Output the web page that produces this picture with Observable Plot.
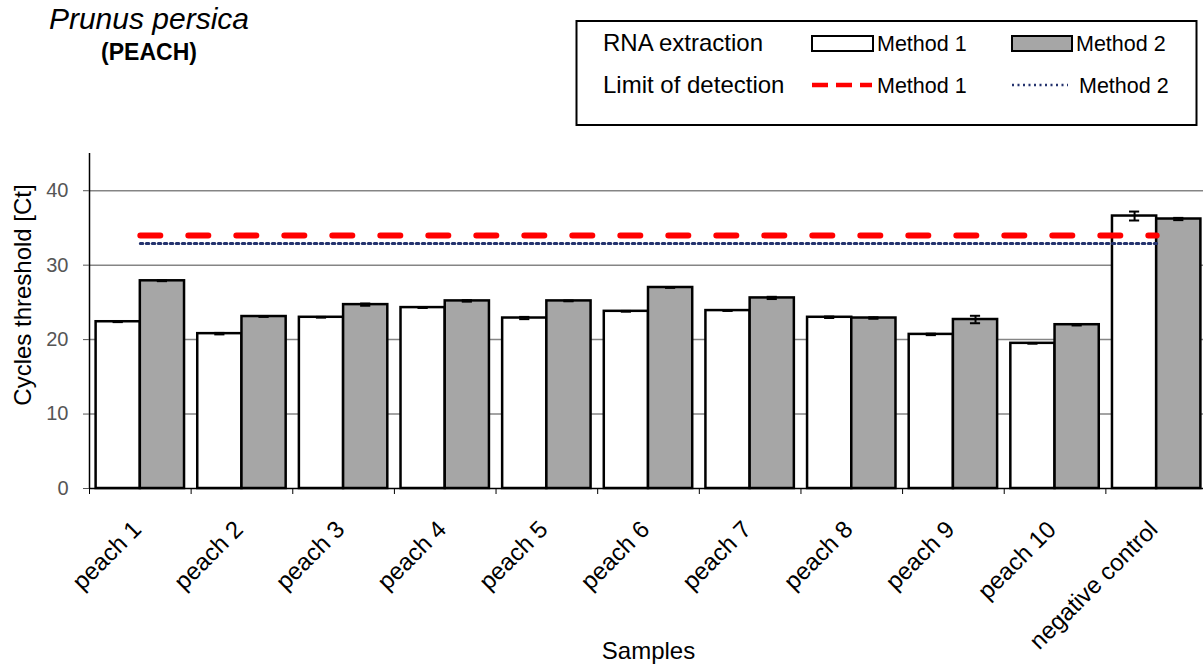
<!DOCTYPE html>
<html>
<head>
<meta charset="utf-8">
<script src="https://cdn.jsdelivr.net/npm/d3@7"></script>
<script src="https://cdn.jsdelivr.net/npm/@observablehq/plot@0.6"></script>
<style>
  html, body { margin: 0; padding: 0; background: #fff; overflow: hidden; width: 1203px; height: 668px; }
  body { font-family: "Liberation Sans", Arial, sans-serif; }
  #header { display: block; }
  #chart svg { max-width: none !important; display: block; }
</style>
</head>
<body>
<svg id="header" width="1203" height="130" xmlns="http://www.w3.org/2000/svg" font-family="Liberation Sans, Arial, sans-serif">
  <text x="149" y="29" text-anchor="middle" font-size="30" font-style="italic">Prunus persica</text>
  <text x="149" y="60" text-anchor="middle" font-size="23" font-weight="bold">(PEACH)</text>
  <rect x="576.5" y="21" width="620" height="104" fill="#fff" stroke="#000" stroke-width="2"></rect>
  <text x="603" y="51" font-size="24">RNA extraction</text>
  <rect x="812" y="36" width="61" height="15" fill="#fff" stroke="#000" stroke-width="2"></rect>
  <text x="877" y="51" font-size="21.5">Method 1</text>
  <rect x="1012" y="36" width="60" height="15" fill="#a6a6a6" stroke="#000" stroke-width="2"></rect>
  <text x="1076" y="51" font-size="21.5">Method 2</text>
  <text x="603" y="93" font-size="24">Limit of detection</text>
  <line x1="812" y1="85" x2="872" y2="85" stroke="#ff0000" stroke-width="4.5" stroke-dasharray="16 8"></line>
  <text x="877" y="93" font-size="21.5">Method 1</text>
  <line x1="1012" y1="85" x2="1068" y2="85" stroke="#24336e" stroke-width="2.5" stroke-dasharray="2 3.5"></line>
  <text x="1079" y="93" font-size="21.5">Method 2</text>
</svg>
<div id="chart"></div>
<script>
// ---- data ----
const samples = ["peach 1", "peach 2", "peach 3", "peach 4", "peach 5", "peach 6", "peach 7", "peach 8", "peach 9", "peach 10", "negative control"];
const method1 = [22.4, 20.8, 23.0, 24.3, 22.9, 23.8, 23.9, 23.0, 20.7, 19.5, 36.6];
const method2 = [27.9, 23.1, 24.7, 25.2, 25.2, 27.0, 25.6, 22.9, 22.7, 22.0, 36.2];
const error1  = [0.05, 0.1, 0.05, 0.05, 0.15, 0.05, 0.05, 0.1, 0.1, 0.05, 0.6];
const error2  = [0.05, 0.05, 0.15, 0.1, 0.05, 0.05, 0.15, 0.1, 0.5, 0.1, 0.15];
const lodMethod1 = [34, 34, 34, 34, 34, 34, 34, 34, 34, 34, 34];
const lodMethod2 = [32.9, 32.9, 32.9, 32.9, 32.9, 32.9, 32.9, 32.9, 32.9, 32.9, 32.9];
const yTicks = [0, 10, 20, 30, 40];
const yTitle = "Cycles threshold [Ct]";
const xTitle = "Samples";

const rows = samples.map((s, i) => ({
  sample: s, i,
  m1: method1[i], m2: method2[i],
  e1: error1[i], e2: error2[i],
  l1: lodMethod1[i], l2: lodMethod2[i]
}));
const boundaries = d3.range(samples.length + 1);

// bar layout inside each category (fraction of category width)
const gap = 0.065, mid = 0.5, cap = 0.05;
const c1 = (gap + mid) / 2, c2 = (mid + 1 - gap) / 2;

const font = "Liberation Sans, Arial, sans-serif";

const chart = Plot.plot({
  width: 1215,
  height: 538,
  marginLeft: 89,
  marginRight: 8,
  marginTop: 23,
  marginBottom: 180,
  style: { fontFamily: font, background: "transparent", maxWidth: "none", overflow: "visible" },
  x: { domain: [0, samples.length], axis: null },
  y: { domain: [0, 45], axis: null },
  marks: [
    Plot.gridY(yTicks.filter(t => t > 0), { stroke: "#858585", strokeOpacity: 1, strokeWidth: 1.5 }),
    Plot.rect(rows, { x1: d => d.i + gap, x2: d => d.i + mid, y1: 0, y2: "m1", fill: "#ffffff", stroke: "#000", strokeWidth: 2.5 }),
    Plot.rect(rows, { x1: d => d.i + mid, x2: d => d.i + 1 - gap, y1: 0, y2: "m2", fill: "#a6a6a6", stroke: "#000", strokeWidth: 2.5 }),
    // error bars
    Plot.ruleX(rows, { x: d => d.i + c1, y1: d => d.m1 - d.e1, y2: d => d.m1 + d.e1, stroke: "#000", strokeWidth: 2 }),
    Plot.ruleY(rows, { x1: d => d.i + c1 - cap, x2: d => d.i + c1 + cap, y: d => d.m1 + d.e1, stroke: "#000", strokeWidth: 2 }),
    Plot.ruleY(rows, { x1: d => d.i + c1 - cap, x2: d => d.i + c1 + cap, y: d => d.m1 - d.e1, stroke: "#000", strokeWidth: 2 }),
    Plot.ruleX(rows, { x: d => d.i + c2, y1: d => d.m2 - d.e2, y2: d => d.m2 + d.e2, stroke: "#000", strokeWidth: 2 }),
    Plot.ruleY(rows, { x1: d => d.i + c2 - cap, x2: d => d.i + c2 + cap, y: d => d.m2 + d.e2, stroke: "#000", strokeWidth: 2 }),
    Plot.ruleY(rows, { x1: d => d.i + c2 - cap, x2: d => d.i + c2 + cap, y: d => d.m2 - d.e2, stroke: "#000", strokeWidth: 2 }),
    // limits of detection
    Plot.lineY(rows, { x: d => d.i + 0.5, y: "l2", stroke: "#24336e", strokeWidth: 3, strokeDasharray: "2.5 3.5" }),
    Plot.lineY(rows, { x: d => d.i + 0.5, y: "l1", stroke: "#ff0000", strokeWidth: 6, strokeDasharray: "20 28", strokeLinecap: "round" }),
    // axes lines
    Plot.ruleX([0], { stroke: "#000", strokeWidth: 1.5 }),
    Plot.ruleY([0], { stroke: "#000", strokeWidth: 1.5 }),
    Plot.axisY({ ticks: yTicks, tickSize: 6, tickPadding: 15, fontSize: 20, color: "#555", label: null, tickFormat: d => String(d) }),
    Plot.axisX({ ticks: boundaries, tickSize: 6, tickFormat: () => "", label: null, stroke: "#000" }),
    // category labels
    Plot.text(rows, { x: d => d.i + 0.5, y: 0, text: "sample", rotate: -45, textAnchor: "end", dx: -3, dy: 37, fontSize: 24, fill: "#000" }),
    // titles
    Plot.text([yTitle], { frameAnchor: "left", textAnchor: "middle", rotate: -90, dx: -66, dy: -26, fontSize: 24, fill: "#000" }),
    Plot.text([xTitle], { frameAnchor: "bottom", textAnchor: "middle", dy: 170, fontSize: 24, fill: "#000" })
  ]
});
document.getElementById("chart").appendChild(chart);
</script>
</body>
</html>
